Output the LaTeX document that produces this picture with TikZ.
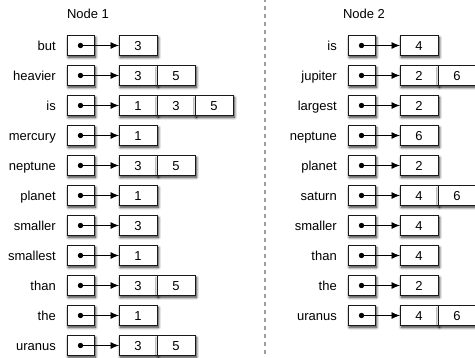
\documentclass[tikz,border=0pt]{standalone}
\usepackage{fontspec}
\setmainfont{Liberation Sans}
\usetikzlibrary{positioning,arrows.meta,shadows.blur}

\tikzset{
  box/.style={draw=black!90, fill=white, line width=1pt, inner sep=0pt, outer sep=0pt,
    minimum height=19.5pt, font=\fontsize{13}{15}\selectfont,
    blur shadow={shadow xshift=1.4pt, shadow yshift=-2pt, shadow blur radius=2.8pt,
      shadow blur steps=8, shadow opacity=85}},
  ptrbox/.style={box, minimum width=27pt},
  cellbox/.style={box, minimum width=38pt, text height=9.5pt, text depth=0pt},
  word/.style={inner sep=0pt, text height=9.5pt, text depth=0pt, font=\fontsize{13}{15}\selectfont},
  title/.style={font=\fontsize{13}{15}\selectfont},
  ptr/.style={line width=0.9pt, -{Latex[length=8.5pt,width=7pt]}},
}

\begin{document}
\begin{tikzpicture}[x=1pt, y=-1pt]
  \useasboundingbox (0,0) rectangle (475,358);
  \clip (0,0) rectangle (475,358);

  % divider between the two nodes
  \draw[gray!75, line width=1.3pt, dash pattern=on 4pt off 4pt] (265,-2) -- (265,360);

  % Node 1
  \node[title] (title1) at (88,14) {Node 1};
  \foreach \w/\vals [count=\i] in {but/{3}, heavier/{3,5}, is/{1,3,5}, mercury/{1},
      neptune/{3,5}, planet/{1}, smaller/{3}, smallest/{1}, than/{3,5}, the/{1}, uranus/{3,5}} {
    \node[ptrbox] (p1-\i) at (80.5, 15.5+30*\i) {};
    \node[word, left=11pt of p1-\i] (w1-\i) {\w};
    \foreach \v [count=\j] in \vals {
      \node[cellbox, anchor=west] (c1-\i-\j) at ([xshift={25pt+38pt*(\j-1)}]p1-\i.east) {\v};
    }
    \fill (p1-\i.center) circle (2.7pt);
    \draw[ptr] (p1-\i.center) -- (c1-\i-1.west);
  }

  % Node 2
  \node[title] (title2) at (364,14) {Node 2};
  \foreach \w/\vals [count=\i] in {is/{4}, jupiter/{2,6}, largest/{2}, neptune/{6},
      planet/{2}, saturn/{4,6}, smaller/{4}, than/{4}, the/{2}, uranus/{4,6}} {
    \node[ptrbox] (p2-\i) at (361.5, 15.5+30*\i) {};
    \node[word, left=11pt of p2-\i] (w2-\i) {\w};
    \foreach \v [count=\j] in \vals {
      \node[cellbox, anchor=west] (c2-\i-\j) at ([xshift={25pt+38pt*(\j-1)}]p2-\i.east) {\v};
    }
    \fill (p2-\i.center) circle (2.7pt);
    \draw[ptr] (p2-\i.center) -- (c2-\i-1.west);
  }
\end{tikzpicture}
\end{document}
